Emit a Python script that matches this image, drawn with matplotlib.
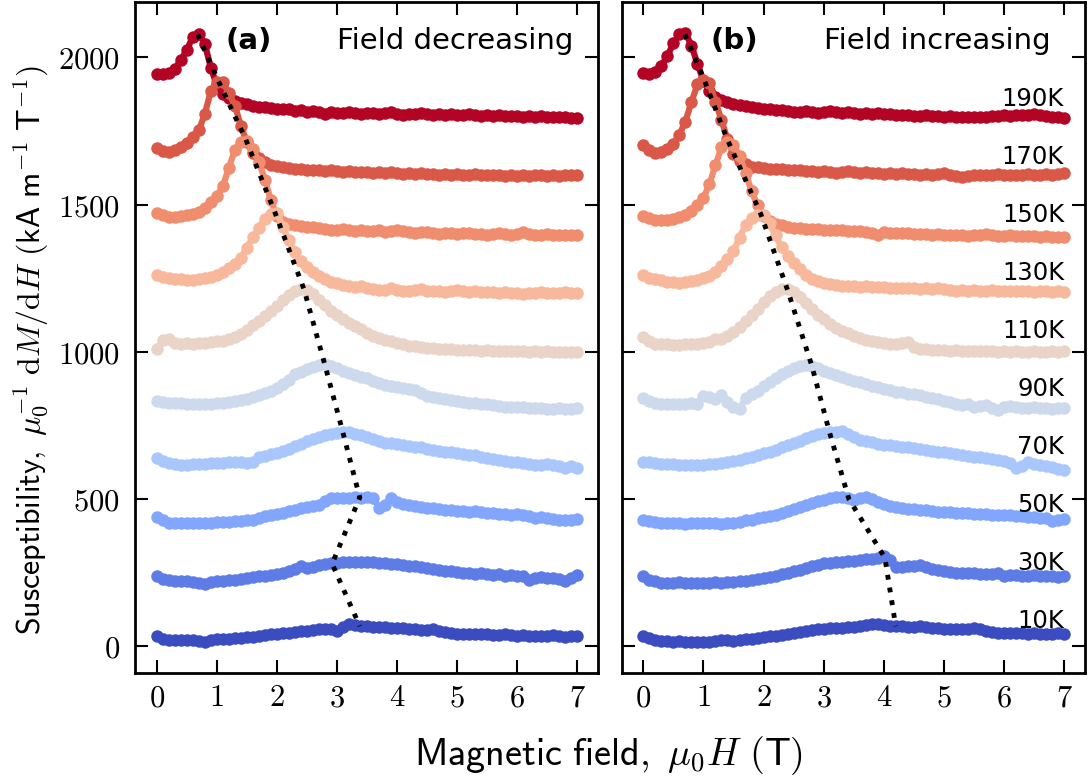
import matplotlib
matplotlib.use('Agg')
import matplotlib.pyplot as plt
from matplotlib.ticker import FuncFormatter

plt.rcParams['mathtext.fontset'] = 'cm'
plt.rcParams['font.family'] = 'DejaVu Sans'

# applied field (T), 0.1 T steps
field = [0.0, 0.1, 0.2, 0.3, 0.4, 0.5, 0.6, 0.7, 0.8, 0.9,
         1.0, 1.1, 1.2, 1.3, 1.4, 1.5, 1.6, 1.7, 1.8, 1.9,
         2.0, 2.1, 2.2, 2.3, 2.4, 2.5, 2.6, 2.7, 2.8, 2.9,
         3.0, 3.1, 3.2, 3.3, 3.4, 3.5, 3.6, 3.7, 3.8, 3.9,
         4.0, 4.1, 4.2, 4.3, 4.4, 4.5, 4.6, 4.7, 4.8, 4.9,
         5.0, 5.1, 5.2, 5.3, 5.4, 5.5, 5.6, 5.7, 5.8, 5.9,
         6.0, 6.1, 6.2, 6.3, 6.4, 6.5, 6.6, 6.7, 6.8, 6.9, 7.0]

temps = [10, 30, 50, 70, 90, 110, 130, 150, 170, 190]

# ---- field decreasing (offset curves as plotted) ----
dec_190K = [1944, 1942, 1946, 1962, 1990, 2025, 2070, 2081, 2045, 1965,
            1905, 1876, 1862, 1853, 1845, 1840, 1836, 1833, 1831, 1828,
            1826, 1824, 1823, 1819, 1820, 1816, 1818, 1813, 1809, 1815,
            1812, 1810, 1816, 1811, 1808, 1810, 1812, 1808, 1811, 1813,
            1807, 1805, 1809, 1808, 1810, 1806, 1804, 1807, 1805, 1806,
            1803, 1805, 1808, 1804, 1802, 1804, 1801, 1803, 1800, 1802,
            1801, 1799, 1801, 1798, 1800, 1799, 1797, 1798, 1796, 1795, 1793]
dec_170K = [1691, 1682, 1679, 1684, 1694, 1708, 1728, 1752, 1808, 1885,
            1918, 1915, 1880, 1836, 1768, 1712, 1676, 1657, 1643, 1635,
            1630, 1626, 1623, 1621, 1620, 1618, 1619, 1616, 1614, 1617,
            1613, 1612, 1614, 1610, 1609, 1612, 1608, 1610, 1607, 1611,
            1606, 1605, 1608, 1604, 1606, 1603, 1605, 1602, 1604, 1601,
            1603, 1600, 1602, 1604, 1601, 1599, 1602, 1600, 1598, 1601,
            1597, 1599, 1596, 1599, 1601, 1598, 1600, 1597, 1599, 1601, 1600]
dec_150K = [1470, 1463, 1459, 1458, 1460, 1463, 1468, 1476, 1488, 1508,
            1528, 1562, 1625, 1685, 1712, 1716, 1688, 1645, 1585, 1515,
            1462, 1442, 1434, 1430, 1428, 1425, 1423, 1421, 1418, 1412,
            1415, 1417, 1413, 1410, 1414, 1411, 1409, 1412, 1408, 1410,
            1413, 1409, 1407, 1404, 1408, 1406, 1403, 1400, 1405, 1403,
            1401, 1404, 1402, 1399, 1401, 1398, 1400, 1402, 1399, 1397,
            1400, 1406, 1401, 1396, 1398, 1400, 1397, 1395, 1398, 1397, 1396]
dec_130K = [1261, 1254, 1250, 1247, 1246, 1245, 1245, 1246, 1249, 1254,
            1261, 1270, 1283, 1298, 1320, 1352, 1390, 1422, 1450, 1468,
            1472, 1425, 1378, 1338, 1308, 1288, 1272, 1258, 1246, 1238,
            1232, 1226, 1222, 1220, 1223, 1217, 1213, 1211, 1209, 1215,
            1211, 1208, 1206, 1209, 1212, 1208, 1205, 1207, 1204, 1206,
            1209, 1205, 1203, 1206, 1204, 1202, 1204, 1201, 1203, 1200,
            1201, 1195, 1199, 1201, 1203, 1200, 1198, 1200, 1202, 1199, 1198]
dec_110K = [1011, 1040, 1042, 1030, 1028, 1029, 1027, 1030, 1031, 1034,
            1038, 1036, 1044, 1050, 1062, 1074, 1090, 1104, 1122, 1140,
            1156, 1175, 1193, 1206, 1214, 1210, 1195, 1176, 1158, 1140,
            1126, 1112, 1098, 1086, 1076, 1064, 1053, 1046, 1040, 1036,
            1030, 1025, 1021, 1018, 1016, 1013, 1012, 1010, 1009, 1008,
            1007, 1006, 1007, 1005, 1004, 1005, 1003, 1004, 1002, 1003,
            1001, 1002, 1000, 1001, 1000, 1001, 999, 1000, 999, 1000, 1000]
dec_90K = [832, 828, 826, 825, 826, 824, 823, 822, 821, 823,
           825, 826, 829, 832, 836, 841, 846, 854, 861, 868,
           878, 892, 904, 924, 933, 940, 948, 955, 957, 951,
           944, 935, 928, 921, 916, 910, 902, 895, 888, 884,
           880, 876, 873, 870, 860, 850, 846, 842, 838, 835,
           832, 830, 827, 825, 823, 821, 818, 816, 814, 813,
           811, 812, 810, 808, 810, 806, 804, 808, 805, 807, 809]
dec_70K = [638, 628, 622, 618, 616, 617, 618, 619, 620, 621,
           622, 623, 625, 626, 625, 622, 624, 642, 646, 652,
           657, 664, 671, 680, 688, 697, 705, 711, 716, 721,
           724, 727, 726, 720, 716, 712, 705, 697, 690, 689,
           686, 683, 680, 677, 675, 671, 667, 664, 661, 659,
           656, 653, 651, 648, 644, 640, 637, 634, 630, 627,
           625, 622, 619, 617, 616, 618, 615, 611, 606, 612, 604]
dec_50K = [440, 428, 420, 418, 419, 417, 419, 420, 418, 420,
           421, 423, 423, 424, 426, 428, 427, 436, 442, 446,
           449, 453, 458, 464, 470, 474, 476, 480, 492, 502,
           504, 503, 505, 506, 504, 507, 505, 470, 478, 504,
           490, 482, 479, 476, 472, 470, 468, 466, 463, 461,
           460, 458, 457, 459, 455, 452, 454, 450, 448, 446,
           448, 444, 442, 437, 440, 436, 432, 427, 430, 428, 431]
dec_30K = [238, 228, 224, 222, 221, 220, 218, 215, 213, 217,
           220, 221, 224, 226, 229, 231, 234, 237, 240, 243,
           246, 250, 256, 262, 272, 266, 270, 276, 280, 283,
           284, 285, 286, 286, 287, 286, 285, 284, 282, 280,
           278, 276, 274, 271, 268, 265, 262, 260, 257, 254,
           251, 249, 248, 246, 249, 245, 243, 244, 240, 242,
           238, 240, 224, 232, 236, 231, 233, 229, 220, 232, 241]
dec_10K = [34, 25, 22, 22, 21, 22, 20, 18, 16, 20,
           23, 24, 26, 28, 29, 31, 32, 35, 38, 40,
           42, 44, 46, 49, 53, 50, 55, 57, 60, 58,
           52, 66, 74, 71, 68, 67, 66, 65, 64, 63,
           62, 61, 60, 58, 56, 54, 57, 51, 47, 45,
           43, 42, 43, 41, 40, 41, 39, 38, 40, 37,
           36, 37, 35, 36, 34, 35, 37, 33, 32, 34, 33]

# ---- field increasing ----
inc_190K = [1947, 1945, 1951, 1972, 2005, 2048, 2078, 2083, 2040, 1978,
            1920, 1886, 1866, 1855, 1848, 1842, 1837, 1834, 1830, 1828,
            1826, 1824, 1822, 1821, 1818, 1816, 1815, 1817, 1814, 1812,
            1815, 1817, 1813, 1811, 1814, 1812, 1809, 1811, 1808, 1810,
            1807, 1806, 1805, 1803, 1804, 1802, 1801, 1803, 1800, 1801,
            1799, 1800, 1798, 1799, 1797, 1798, 1797, 1799, 1800, 1802,
            1803, 1801, 1804, 1805, 1803, 1806, 1804, 1802, 1799, 1796, 1794]
inc_170K = [1702, 1684, 1674, 1680, 1688, 1705, 1738, 1782, 1848, 1908,
            1922, 1912, 1850, 1787, 1722, 1672, 1649, 1637, 1629, 1626,
            1624, 1622, 1620, 1621, 1618, 1617, 1619, 1615, 1614, 1612,
            1614, 1610, 1608, 1611, 1613, 1609, 1607, 1610, 1606, 1608,
            1605, 1607, 1604, 1606, 1603, 1605, 1602, 1604, 1601, 1603,
            1607, 1602, 1597, 1593, 1598, 1600, 1602, 1599, 1601, 1603,
            1600, 1602, 1599, 1601, 1603, 1600, 1602, 1604, 1602, 1605, 1606]
inc_150K = [1460, 1453, 1449, 1447, 1448, 1452, 1458, 1466, 1478, 1498,
            1522, 1570, 1634, 1695, 1714, 1702, 1665, 1608, 1545, 1498,
            1462, 1444, 1435, 1429, 1425, 1421, 1419, 1418, 1416, 1417,
            1415, 1413, 1415, 1412, 1410, 1411, 1409, 1408, 1404, 1398,
            1406, 1405, 1403, 1404, 1402, 1400, 1401, 1399, 1397, 1399,
            1396, 1398, 1395, 1396, 1394, 1395, 1397, 1399, 1396, 1394,
            1393, 1395, 1393, 1392, 1394, 1392, 1391, 1393, 1391, 1390, 1391]
inc_130K = [1262, 1252, 1246, 1243, 1238, 1236, 1234, 1236, 1239, 1243,
            1249, 1257, 1270, 1290, 1315, 1342, 1388, 1430, 1453, 1466,
            1466, 1436, 1395, 1355, 1325, 1303, 1280, 1261, 1248, 1240,
            1234, 1230, 1227, 1225, 1224, 1222, 1221, 1223, 1220, 1219,
            1221, 1218, 1217, 1216, 1218, 1215, 1214, 1216, 1213, 1215,
            1212, 1210, 1208, 1210, 1207, 1209, 1206, 1208, 1210, 1207,
            1205, 1208, 1206, 1205, 1207, 1204, 1206, 1205, 1203, 1205, 1204]
inc_110K = [1050, 1036, 1028, 1026, 1025, 1024, 1023, 1025, 1026, 1028,
            1030, 1033, 1045, 1043, 1052, 1068, 1085, 1103, 1124, 1146,
            1168, 1188, 1203, 1212, 1214, 1204, 1187, 1166, 1145, 1126,
            1110, 1095, 1082, 1072, 1063, 1055, 1047, 1041, 1036, 1032,
            1029, 1026, 1025, 1030, 1034, 1015, 1011, 1009, 1007, 1006,
            1005, 1004, 1005, 1003, 1004, 1002, 1003, 1001, 1002, 1000,
            1001, 1000, 1001, 999, 1000, 1001, 999, 1000, 1001, 1000, 1001]
inc_90K = [842, 832, 826, 824, 823, 824, 822, 823, 825, 824,
           850, 846, 840, 852, 830, 812, 806, 843, 857, 867,
           884, 897, 910, 924, 936, 946, 953, 955, 952, 946,
           936, 927, 920, 914, 908, 902, 896, 890, 885, 880,
           875, 870, 865, 862, 858, 855, 852, 848, 843, 838,
           833, 828, 824, 819, 822, 813, 815, 819, 809, 803,
           811, 815, 812, 810, 809, 811, 808, 810, 807, 809, 808]
inc_70K = [627, 624, 622, 620, 619, 618, 617, 616, 616, 615,
           616, 618, 620, 623, 626, 629, 633, 638, 643, 649,
           655, 661, 668, 675, 682, 690, 698, 707, 715, 721,
           724, 726, 728, 730, 722, 709, 701, 696, 692, 688,
           685, 682, 679, 677, 675, 672, 669, 666, 664, 661,
           658, 655, 652, 649, 647, 644, 641, 638, 635, 632,
           628, 622, 604, 611, 624, 620, 617, 612, 608, 603, 599]
inc_50K = [429, 424, 421, 420, 419, 417, 418, 416, 417, 418,
           419, 418, 417, 416, 418, 419, 423, 427, 430, 434,
           438, 442, 446, 452, 459, 466, 472, 479, 486, 492,
           498, 503, 507, 508, 503, 497, 503, 506, 500, 490,
           482, 476, 472, 470, 467, 465, 463, 461, 459, 457,
           456, 455, 453, 452, 451, 450, 448, 449, 446, 445,
           447, 444, 442, 443, 440, 438, 436, 434, 424, 430, 433]
inc_30K = [238, 226, 220, 216, 214, 216, 217, 216, 215, 214,
           215, 216, 217, 216, 218, 219, 220, 222, 224, 227,
           230, 234, 238, 244, 250, 255, 260, 266, 272, 277,
           281, 283, 285, 287, 289, 291, 293, 295, 297, 300,
           306, 292, 268, 270, 272, 274, 276, 270, 262, 258,
           255, 251, 249, 248, 247, 248, 246, 245, 244, 249,
           240, 243, 242, 240, 239, 241, 238, 239, 237, 236, 237]
inc_10K = [34, 27, 22, 19, 17, 16, 17, 16, 15, 14,
           15, 16, 18, 20, 22, 19, 21, 24, 26, 28,
           30, 33, 36, 39, 42, 45, 48, 51, 54, 57,
           59, 61, 62, 63, 64, 66, 69, 72, 77, 74,
           72, 70, 68, 67, 66, 64, 68, 65, 62, 61,
           60, 59, 58, 57, 59, 62, 57, 51, 48, 46,
           45, 44, 45, 44, 43, 44, 43, 42, 43, 44, 43]

dec_curves = [dec_10K, dec_30K, dec_50K, dec_70K, dec_90K,
              dec_110K, dec_130K, dec_150K, dec_170K, dec_190K]
inc_curves = [inc_10K, inc_30K, inc_50K, inc_70K, inc_90K,
              inc_110K, inc_130K, inc_150K, inc_170K, inc_190K]

# peak positions (190K -> 10K) joined by the dotted guide
dec_peak_x = [0.68, 1.02, 1.48, 1.97, 2.45, 2.8, 3.1, 3.38, 2.92, 3.38]
dec_peak_y = [2078, 1922, 1722, 1472, 1213, 955, 725, 505, 280, 68]
inc_peak_x = [0.69, 1.0, 1.4, 1.95, 2.4, 2.8, 3.1, 3.42, 4.02, 4.2]
inc_peak_y = [2078, 1930, 1720, 1470, 1210, 955, 725, 500, 300, 68]

colors = plt.cm.coolwarm([i / 9 for i in range(10)])

fig = plt.figure(figsize=(10.9, 7.81), dpi=100)
ax1 = fig.add_axes([0.124, 0.1379, 0.4248, 0.8599])
ax2 = fig.add_axes([0.5704, 0.1379, 0.4250, 0.8599])

fmt = FuncFormatter(lambda v, p: r'$%g$' % v)

for ax, curves, px, py in [(ax1, dec_curves, dec_peak_x, dec_peak_y),
                           (ax2, inc_curves, inc_peak_x, inc_peak_y)]:
    # high temperatures first so the colder curves sit on top
    for i in range(9, -1, -1):
        ax.plot(field, curves[i], color=colors[i], marker='o', markersize=9,
                markeredgewidth=0, linewidth=4.5, zorder=2)
    ax.plot(px, py, color='black', linestyle=':', linewidth=3.5, zorder=5)
    ax.set_xlim(-0.36, 7.35)
    ax.set_ylim(-92, 2189)
    ax.set_xticks(range(8))
    ax.set_yticks([0, 500, 1000, 1500, 2000])
    ax.xaxis.set_major_formatter(fmt)
    ax.yaxis.set_major_formatter(fmt)
    ax.tick_params(direction='in', top=True, right=True, length=9.5, width=1.5,
                   labelsize=22)
    ax.tick_params(axis='x', pad=7)
    ax.tick_params(axis='y', pad=11)
    for s in ax.spines.values():
        s.set_linewidth(2)

ax2.tick_params(labelleft=False)

ax1.text(0.1956, 0.93, '(a)', transform=ax1.transAxes, fontsize=21,
         fontweight='bold', va='baseline')
ax1.text(0.947, 0.93, 'Field decreasing', transform=ax1.transAxes,
         fontsize=21, ha='right', va='baseline')
ax2.text(0.191, 0.93, '(b)', transform=ax2.transAxes, fontsize=21,
         fontweight='bold', va='baseline')
ax2.text(0.926, 0.93, 'Field increasing', transform=ax2.transAxes,
         fontsize=21, ha='right', va='baseline')

for i, t in enumerate(temps):
    ax2.text(7.0, 62 + 197 * i, '%dK' % t, fontsize=17.5, ha='right',
             va='baseline', zorder=6)

fig.text(0.5583, 0.0205, r'$\mathsf{Magnetic\ field,}\ \mu_0H\ \mathsf{(T)}$',
         fontsize=27.5, ha='center', va='baseline')
fig.text(0.029, 0.552,
         r'$\mathsf{Susceptibility,}\ \mu_0^{-1}\ \mathrm{d}M/\mathrm{d}H\ '
         r'\mathsf{(kA\ m}^{-1}\ \mathsf{T}^{-1}\mathsf{)}$',
         fontsize=23, rotation=90, ha='center', va='center')

fig.savefig('out.png', dpi=100)
